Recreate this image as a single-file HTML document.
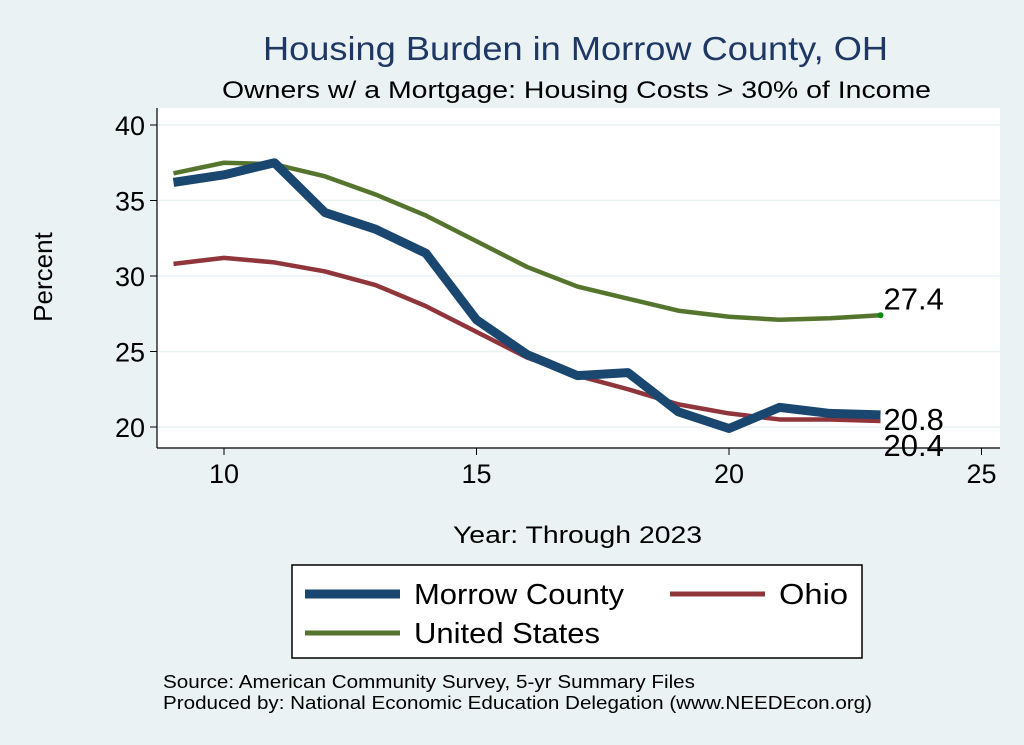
<!DOCTYPE html>
<html><head><meta charset="utf-8"><style>
body{margin:0;background:#eaf2f3;}
svg{display:block;font-family:"Liberation Sans",Arial,sans-serif;}
</style></head><body>
<svg id="c" width="1024" height="745">
<rect x="0" y="0" width="1024" height="745" fill="#eaf2f3"/>
<text x="263" y="60" font-size="33" fill="#1e3764" textLength="625" lengthAdjust="spacingAndGlyphs">Housing Burden in Morrow County, OH</text>
<text x="222" y="98" font-size="24" fill="#000" textLength="709" lengthAdjust="spacingAndGlyphs">Owners w/ a Mortgage: Housing Costs &gt; 30% of Income</text>
<rect x="157" y="108" width="843" height="340" fill="#fff"/>
<g id="grid"></g>
<g id="axes"></g>
<g id="series"></g>
<text x="52" y="277" font-size="26" text-anchor="middle" transform="rotate(-90 52 277)">Percent</text>
<text x="453" y="543" font-size="24" textLength="249" lengthAdjust="spacingAndGlyphs">Year: Through 2023</text>
<g>
<rect x="292" y="565" width="570" height="93" fill="#fff" stroke="#000" stroke-width="1.5"/>
<line x1="305" y1="594" x2="400" y2="594" stroke="#1a476f" stroke-width="9"/>
<text x="414" y="604" font-size="29" textLength="210" lengthAdjust="spacingAndGlyphs">Morrow County</text>
<line x1="670" y1="594" x2="765" y2="594" stroke="#90353b" stroke-width="5"/>
<text x="779" y="604" font-size="29" textLength="69" lengthAdjust="spacingAndGlyphs">Ohio</text>
<line x1="305" y1="633" x2="400" y2="633" stroke="#55752f" stroke-width="5"/>
<text x="414" y="643" font-size="29" textLength="186" lengthAdjust="spacingAndGlyphs">United States</text>
</g>
<text x="163" y="688" font-size="18" textLength="532" lengthAdjust="spacingAndGlyphs">Source: American Community Survey, 5-yr Summary Files</text>
<text x="163" y="709" font-size="18" textLength="709" lengthAdjust="spacingAndGlyphs">Produced by: National Economic Education Delegation (www.NEEDEcon.org)</text>
</svg>
<script>
const years=[9,10,11,12,13,14,15,16,17,18,19,20,21,22,23];
const morrow=[36.2,36.7,37.5,34.2,33.1,31.5,27.1,24.8,23.4,23.6,21.0,19.9,21.3,20.9,20.8];
const ohio=[30.8,31.2,30.9,30.3,29.4,28.0,26.3,24.6,23.4,22.5,21.5,20.9,20.5,20.5,20.4];
const us=[36.8,37.5,37.4,36.6,35.4,34.0,32.3,30.6,29.3,28.5,27.7,27.3,27.1,27.2,27.4];
const xTicks=[10,15,20,25];
const yTicks=[20,25,30,35,40];
const NS="http://www.w3.org/2000/svg";
const xs=v=>224+(v-10)*50.5;
const ys=v=>427-(v-20)*15.1;
function mk(t,a,p){const e=document.createElementNS(NS,t);for(const k in a)e.setAttribute(k,a[k]);p.appendChild(e);return e;}
const grid=document.getElementById('grid'),axes=document.getElementById('axes'),ser=document.getElementById('series');
mk('line',{x1:157,y1:108,x2:157,y2:448,stroke:'#000','stroke-width':1.2},axes);
mk('line',{x1:157,y1:448,x2:1000,y2:448,stroke:'#000','stroke-width':1.2},axes);
yTicks.forEach(v=>{
 const g=mk('line',{x1:157,y1:ys(v),x2:1000,y2:ys(v),stroke:'#eaf2f3','stroke-width':1.5},grid);
 
 
 mk('line',{x1:150,y1:ys(v),x2:157,y2:ys(v),stroke:'#000'},axes);
 const t=mk('text',{x:145,y:ys(v)+10,'font-size':27,'text-anchor':'end'},axes);t.textContent=v;
 
 
});
xTicks.forEach(v=>{
 mk('line',{x1:xs(v),y1:448,x2:xs(v),y2:455,stroke:'#000'},axes);
 const t=mk('text',{x:xs(v),y:483,'font-size':27,'text-anchor':'middle'},axes);t.textContent=v;
 
 
});
function line(d,col,w,name){
 const p=mk('polyline',{points:d.map((v,i)=>xs(years[i])+','+ys(v)).join(' '),fill:'none',stroke:col,'stroke-width':w,'stroke-linejoin':'round'},ser);
 
 
}
line(us,'#55752f',4.5,'line-us');
line(ohio,'#90353b',4.5,'line-ohio');
line(morrow,'#1a476f',9,'line-morrow');
const n=years.length-1;
mk('circle',{cx:xs(years[n]),cy:ys(us[n]),r:3,fill:'#0a8a0a'},ser);
function lab(v,dy,name){const t=mk('text',{x:xs(years[n])+3,y:ys(v)+dy,'font-size':31},ser);t.textContent=v.toFixed(1);
 
 }
lab(us[n],-6,'label-us');
lab(morrow[n],15,'label-morrow');
lab(ohio[n],35,'label-ohio');
</script>
</body></html>
